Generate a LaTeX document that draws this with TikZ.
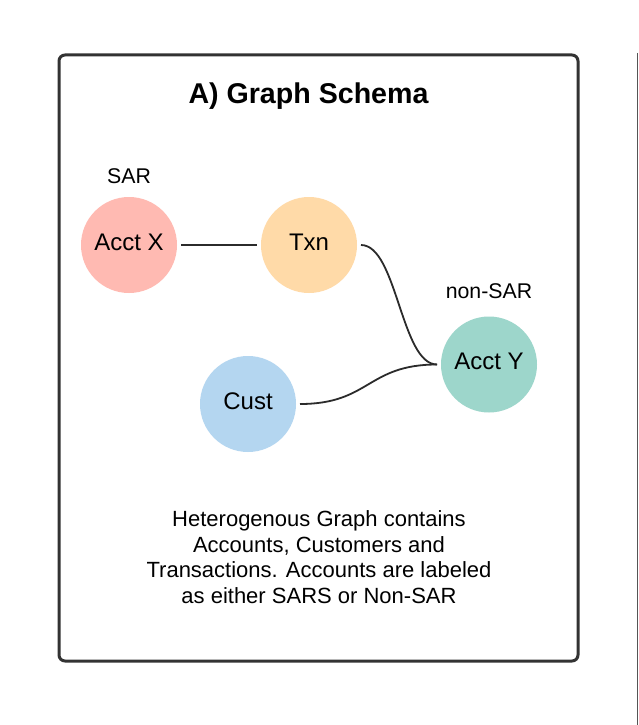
\documentclass[tikz,border=0pt]{standalone}
\usepackage{fontspec}
\setmainfont{Liberation Sans}
\definecolor{boxline}{HTML}{333333}
\definecolor{edgecol}{HTML}{2B2B2B}
\definecolor{pinkfill}{HTML}{FFBAB2}
\definecolor{orangefill}{HTML}{FFDAA8}
\definecolor{bluefill}{HTML}{B4D6F0}
\definecolor{tealfill}{HTML}{9DD6CB}
\definecolor{sideline}{HTML}{555555}
\begin{document}
\begin{tikzpicture}[x=1pt,y=-1pt,
  entity/.style={circle, minimum size=96pt, inner sep=0pt, outer sep=4pt, draw=none,
    text height=17.2pt, text depth=7pt,
    font=\fontsize{24}{28}\selectfont},
  tag/.style={anchor=base, font=\fontsize{21.3}{25}\selectfont, inner sep=0pt},
  link/.style={draw=edgecol, line width=1.8pt},
]
\useasboundingbox (0,0) rectangle (639,725);
\fill[white] (0,0) rectangle (639,725);
% frame
\draw[boxline, line width=3pt, rounded corners=6pt] (59,55) rectangle (578,661);
\draw[sideline, line width=1.6pt] (637.5,53) -- (637.5,725);
% title
\node[anchor=base, inner sep=0pt, font=\fontsize{28.6}{32}\selectfont\bfseries] (title) at (308.5,103) {A) Graph Schema};
% nodes
\node[entity, fill=pinkfill] (acctx) at (129,245) {Acct X};
\node[entity, fill=orangefill] (txn) at (309,245) {Txn};
\node[entity, fill=bluefill] (cust) at (248,404) {Cust};
\node[entity, fill=tealfill] (accty) at (489,364.5) {Acct Y};
% labels
\node[tag] (sar) at (129,183) {SAR};
\node[tag] (nonsar) at (489,298) {non-SAR};
% edges
\draw[link] (acctx.east) -- (txn.west);
\draw[link] (txn.east) .. controls +(36,0) and +(-36,0) .. (accty.west);
\draw[link] (cust.east) .. controls +(70,0) and +(-70,0) .. (accty.west);
% caption
\node[anchor=base, inner sep=0pt, align=center, font=\fontsize{22}{25.5}\selectfont] (caption) at (319,603)
  {Heterogenous Graph contains\\Accounts, Customers and\\Transactions. Accounts are labeled\\as either SARS or Non-SAR};
\end{tikzpicture}
\end{document}
